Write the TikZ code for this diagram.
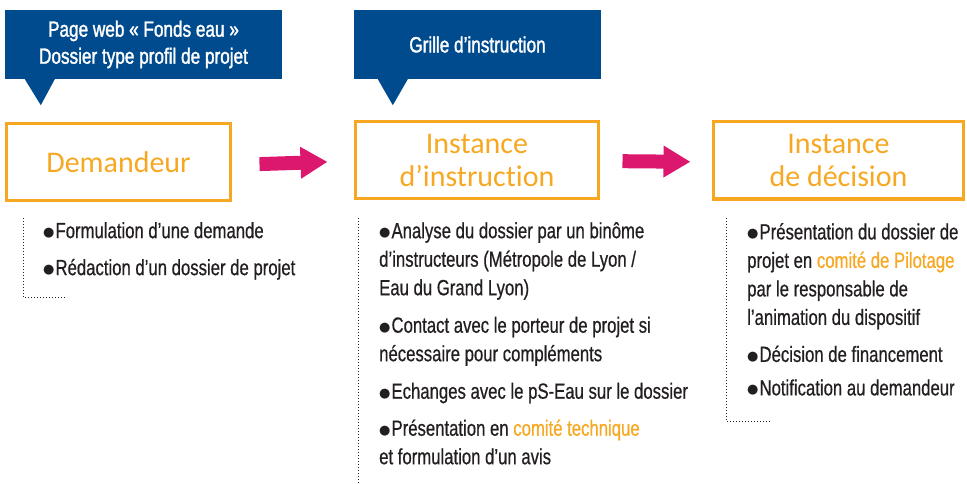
\documentclass[tikz,border=0pt]{standalone}
\usepackage{fontspec}
\usepackage{xcolor}
\usepackage{tikz}
\usetikzlibrary{arrows.meta, positioning, calc}
\newfontfamily\bodyfont{Liberation Sans}[FakeStretch=0.76, FakeBold=0.6]
\newfontfamily\calloutfont{Liberation Sans}[FakeStretch=0.78, FakeBold=1.5]
\newfontfamily\titlefont{Carlito}[Ligatures=NoCommon]
\newfontfamily\dotfont{DejaVu Sans}
\definecolor{fondsblue}{RGB}{0, 75, 141}
\definecolor{stageorange}{RGB}{247, 168, 35}
\definecolor{flowpink}{RGB}{219, 24, 110}
\definecolor{bodytext}{RGB}{35, 31, 32}
\newcommand{\hl}[1]{\textcolor{stageorange}{#1}}
\newcommand{\itm}{{\dotfont\fontsize{13}{13}\selectfont\raisebox{1.5pt}{●}}\hspace{1pt}}

\begin{document}
\begin{tikzpicture}[x=1pt, y=-1pt,
    callout/.style={fill=fondsblue, text=white, inner sep=0pt, align=center,
        font=\calloutfont\fontsize{22}{27}\selectfont},
    stagebox/.style={draw=stageorange, line width=3pt, text=stageorange, inner sep=0pt,
        minimum height=77pt, align=center, font=\titlefont\fontsize{30}{33}\selectfont},
    itemlist/.style={anchor=north west, inner sep=0pt, align=left, text=bodytext,
        font=\bodyfont\fontsize{22}{28.5}\selectfont},
    flow/.style={flowpink, line width=14pt, -{Triangle[length=27pt, width=30pt]}},
    bracket/.style={draw=bodytext, line width=1pt, dash pattern=on 1pt off 2pt}]
    \useasboundingbox (0,0) rectangle (967,484);

    % Blue callouts
    \node[callout, minimum width=277pt, minimum height=69pt] (web) at (143.5,44.5)
        {Page web « Fonds eau »\\Dossier type profil de projet};
    \node[callout, minimum width=247pt, minimum height=69pt] (grid) at (477.5,44.5)
        {Grille d’instruction};
    \fill[fondsblue] ($(web.south west)+(20,0)$) -- ++(16,26) -- ++(14,-26) -- cycle;
    \fill[fondsblue] ($(grid.south west)+(24,0)$) -- ++(15,26) -- ++(15,-26) -- cycle;

    % Stages
    \node[stagebox, minimum width=224pt] (dem) at (118.5,162) {Demandeur};
    \node[stagebox, minimum width=243pt] (instr) at (477,160) {Instance\\d’instruction};
    \node[stagebox, minimum width=250pt] (dec) at (838.5,160.5) {Instance\\de décision};

    % Flow arrows
    \draw[flow, shorten <=27.5pt, shorten >=26.5pt] ([yshift=-3pt]dem.east) -- ([yshift=-1pt]instr.west);
    \draw[flow, shorten <=22.5pt, shorten >=21.5pt] ([yshift=-1pt]instr.east) -- ([yshift=-1.5pt]dec.west);

    % Dotted brackets
    \draw[bracket] (23,218) -- (23,297) -- (67,297);
    \draw[bracket] (358,218) -- (358,484);
    \draw[bracket] (726,218) -- (726,421) -- (770,421);

    % Item lists
    \node[itemlist] (demlist) at (43,222)
        {\itm Formulation d’une demande\\[8.5pt]
         \itm Rédaction d’un dossier de projet};
    \node[itemlist] (instrlist) at (379,222)
        {\itm Analyse du dossier par un binôme\\
         d’instructeurs (Métropole de Lyon /\\
         Eau du Grand Lyon)\\[9pt]
         \itm Contact avec le porteur de projet si\\
         nécessaire pour compléments\\[9pt]
         \itm Echanges avec le pS-Eau sur le dossier\\[8.5pt]
         \itm Présentation en \hl{comité technique}\\
         et formulation d’un avis};
    \node[itemlist] (declist) at (747,223)
        {\itm Présentation du dossier de\\
         projet en \hl{comité de Pilotage}\\
         par le responsable de\\
         l’animation du dispositif\\[8.5pt]
         \itm Décision de financement\\[5pt]
         \itm Notification au demandeur};
\end{tikzpicture}
\end{document}
